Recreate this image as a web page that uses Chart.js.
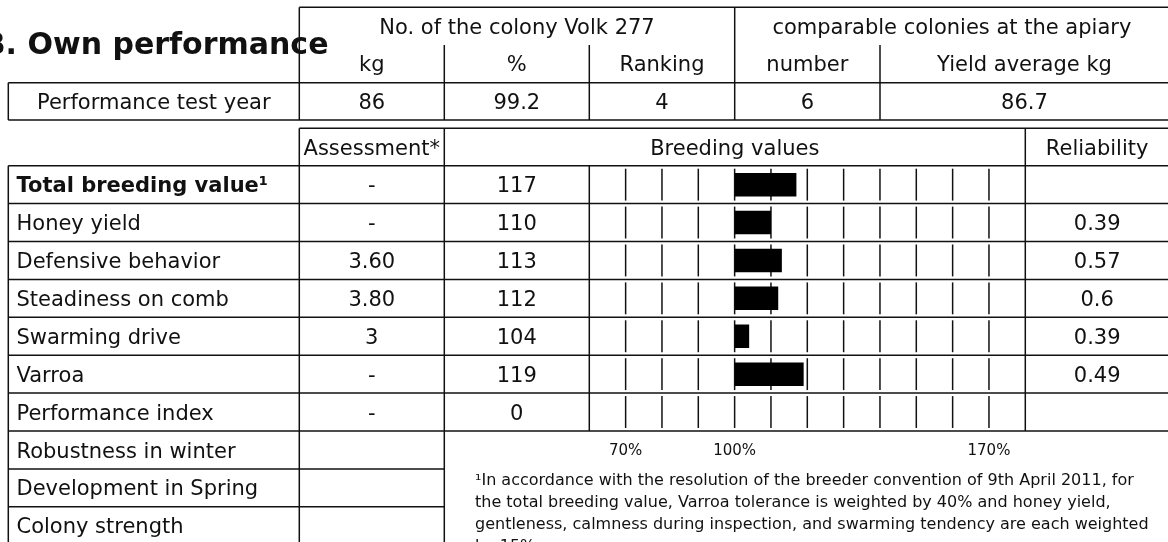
<!DOCTYPE html>
<html>
<head>
<meta charset="utf-8">
<script src="https://cdn.jsdelivr.net/npm/chart.js@4/dist/chart.umd.min.js"></script>
<style>
  html, body { margin: 0; padding: 0; background: #fff; }
  canvas { display: block; }
</style>
</head>
<body>
<canvas id="own-performance" width="1168" height="542"></canvas>
<script>
// data
const title = 'B. Own performance';
const topGroups = ['No. of the colony Volk 277', 'comparable colonies at the apiary'];
const topColumns = ['kg', '%', 'Ranking', 'number', 'Yield average kg'];
const testYearLabel = 'Performance test year';
const testYearValues = ['86', '99.2', '4', '6', '86.7'];

const lowerHeaders = ['Assessment*', 'Breeding values', 'Reliability'];
const traits = ['Total breeding value\u00b9', 'Honey yield', 'Defensive behavior', 'Steadiness on comb',
  'Swarming drive', 'Varroa', 'Performance index'];
const assessments = ['-', '-', '3.60', '3.80', '3', '-', '-'];
const breedingValues = [117, 110, 113, 112, 104, 119, 0];
const reliability = ['', '0.39', '0.57', '0.6', '0.39', '0.49', ''];
const otherTraits = ['Robustness in winter', 'Development in Spring', 'Colony strength'];

const gridTicks = [70, 80, 90, 100, 110, 120, 130, 140, 150, 160, 170];
const tickLabels = [70, 100, 170];
const baseValue = 100;

const footnote = [
  '\u00b9In accordance with the resolution of the breeder convention of 9th April 2011, for',
  'the total breeding value, Varroa tolerance is weighted by 40% and honey yield,',
  'gentleness, calmness during inspection, and swarming tendency are each weighted',
  'by 15%.'
];

// layout
const FONT = '"DejaVu Sans", sans-serif';
const INK = '#111';
const X = { left: 8.3, label: 299.3, assess: 444.3, value: 589.3, mid: 734.7, number: 880, rel: 1025.3, right: 1169 };
const TOP_Y = [7.3, 45, 82.7, 120];
const HEAD_Y = [128.3, 165.7];

function hline(ctx, x1, x2, y) {
  ctx.beginPath(); ctx.moveTo(x1, y); ctx.lineTo(x2, y); ctx.stroke();
}
function vline(ctx, x, y1, y2) {
  ctx.beginPath(); ctx.moveTo(x, y1); ctx.lineTo(x, y2); ctx.stroke();
}
function label(ctx, str, x, yMid, align, size, bold) {
  ctx.font = (bold ? 'bold ' : '') + size + 'px ' + FONT;
  ctx.textAlign = align;
  ctx.textBaseline = 'alphabetic';
  ctx.fillText(str, x, yMid + size * 0.36);
}

const tablePlugin = {
  id: 'table',
  beforeDatasetsDraw(chart) {
    const { ctx, scales: { x, y } } = chart;
    const band = y.getPixelForValue(1) - y.getPixelForValue(0);
    const rowTop = i => y.getPixelForValue(0) - band / 2 + i * band;
    const rowMid = i => rowTop(i) + band / 2;
    const nBars = traits.length;
    const nAll = nBars + otherTraits.length;

    ctx.save();
    ctx.strokeStyle = INK;
    ctx.fillStyle = INK;
    ctx.lineWidth = 1.5;

    // title
    ctx.font = 'bold 30px ' + FONT;
    ctx.textAlign = 'right';
    ctx.textBaseline = 'alphabetic';
    ctx.fillText(title, 328.5, 53.5);

    // top table lines
    hline(ctx, X.label, X.right, TOP_Y[0]);
    hline(ctx, X.left, X.right, TOP_Y[2]);
    hline(ctx, X.left, X.right, TOP_Y[3]);
    vline(ctx, X.left, TOP_Y[2], TOP_Y[3]);
    vline(ctx, X.label, TOP_Y[0], TOP_Y[3]);
    vline(ctx, X.mid, TOP_Y[0], TOP_Y[3]);
    [X.assess, X.value, X.number].forEach(cx => vline(ctx, cx, TOP_Y[1], TOP_Y[3]));

    // top table text
    const topCols = [X.label, X.assess, X.value, X.mid, X.number, X.right];
    const m0 = (TOP_Y[0] + TOP_Y[1]) / 2, m1 = (TOP_Y[1] + TOP_Y[2]) / 2, m2 = (TOP_Y[2] + TOP_Y[3]) / 2;
    label(ctx, topGroups[0], (X.label + X.mid) / 2, m0, 'center', 21);
    label(ctx, topGroups[1], (X.mid + X.right) / 2, m0, 'center', 21);
    topColumns.forEach((t, i) => label(ctx, t, (topCols[i] + topCols[i + 1]) / 2, m1, 'center', 21));
    label(ctx, testYearLabel, (X.left + X.label) / 2, m2, 'center', 21);
    testYearValues.forEach((t, i) => label(ctx, t, (topCols[i] + topCols[i + 1]) / 2, m2, 'center', 21));

    // lower table header
    const hm = (HEAD_Y[0] + HEAD_Y[1]) / 2;
    hline(ctx, X.label, X.right, HEAD_Y[0]);
    vline(ctx, X.label, HEAD_Y[0], rowTop(nAll));
    vline(ctx, X.assess, HEAD_Y[0], rowTop(nAll));
    vline(ctx, X.rel, HEAD_Y[0], rowTop(nBars));
    label(ctx, lowerHeaders[0], (X.label + X.assess) / 2, hm, 'center', 21);
    label(ctx, lowerHeaders[1], (X.assess + X.rel) / 2, hm, 'center', 21);
    label(ctx, lowerHeaders[2], (X.rel + X.right) / 2, hm, 'center', 21);

    // rows with bars
    hline(ctx, X.left, X.right, rowTop(0));
    vline(ctx, X.left, rowTop(0), rowTop(nAll));
    vline(ctx, X.value, rowTop(0), rowTop(nBars));
    for (let i = 0; i < nBars; i++) {
      hline(ctx, X.left, X.right, rowTop(i + 1));
      label(ctx, traits[i], 16.5, rowMid(i), 'left', 21, i === 0);
      label(ctx, assessments[i], (X.label + X.assess) / 2, rowMid(i), 'center', 21);
      label(ctx, String(breedingValues[i]), (X.assess + X.value) / 2, rowMid(i), 'center', 21);
      label(ctx, reliability[i], (X.rel + X.right) / 2, rowMid(i), 'center', 21);
      gridTicks.forEach(v => {
        const px = x.getPixelForValue(v);
        vline(ctx, px, rowTop(i) + 3, rowTop(i + 1) - 3);
      });
    }

    // rows without bars
    for (let j = 0; j < otherTraits.length; j++) {
      const i = nBars + j;
      hline(ctx, X.left, X.assess, rowTop(i + 1));
      label(ctx, otherTraits[j], 16.5, rowMid(i), 'left', 21);
    }

    // axis labels and footnote
    const axisY = rowTop(nBars) + 19;
    tickLabels.forEach(v => label(ctx, v + '%', x.getPixelForValue(v), axisY, 'center', 15));
    ctx.font = '16px ' + FONT;
    ctx.textAlign = 'left';
    footnote.forEach((line, k) => ctx.fillText(line, 475, 485 + k * 22));

    ctx.restore();
  }
};

new Chart(document.getElementById('own-performance'), {
  type: 'bar',
  data: {
    labels: traits,
    datasets: [{
      data: breedingValues.map(v => (v > 0 ? [baseValue, v] : null)),
      backgroundColor: '#000',
      borderWidth: 0,
      barPercentage: 0.62,
      categoryPercentage: 1
    }]
  },
  options: {
    indexAxis: 'y',
    responsive: false,
    animation: false,
    devicePixelRatio: 1,
    layout: { padding: { left: 589.3, right: 1168 - 1025.3, top: 165.7, bottom: 542 - 431 } },
    plugins: { legend: { display: false }, tooltip: { enabled: false } },
    scales: {
      x: { min: 60, max: 180, display: false },
      y: { display: false }
    }
  },
  plugins: [tablePlugin]
});
</script>
</body>
</html>
